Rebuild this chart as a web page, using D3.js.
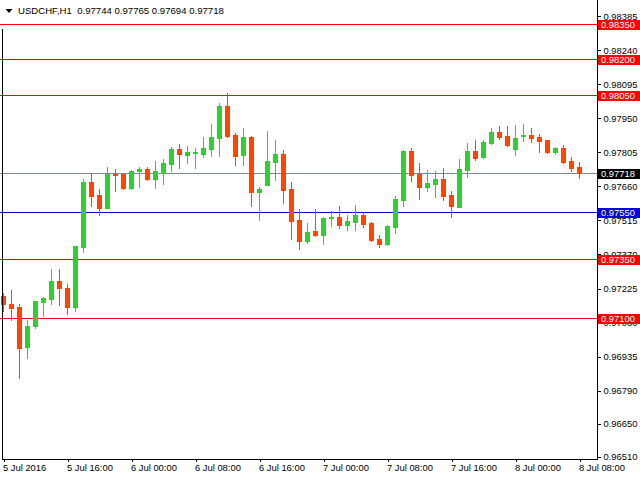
<!DOCTYPE html>
<html>
<head>
<meta charset="utf-8">
<script src="https://cdn.jsdelivr.net/npm/d3@7"></script>
<style>
  html, body { margin: 0; padding: 0; background: #ffffff; }
  svg { display: block; }
  text { font-family: "Liberation Sans", Arial, sans-serif; }
</style>
</head>
<body>
<svg id="chart" width="640" height="480"></svg>
<script>
// ---- DATA (USDCHF, H1, from 5 Jul 2016 08:00) ----
const symbol = "USDCHF,H1";
const open = [0.97195,0.97161,0.97148,0.96975,0.97064,0.97167,0.97180,0.97255,0.97229,0.97145,
  0.97401,0.97677,0.97622,0.97568,0.97713,0.97713,0.97653,0.97725,0.97733,0.97691,
  0.97716,0.97755,0.97818,0.97794,0.97802,0.97798,0.97819,0.97866,0.98001,0.97878,
  0.97794,0.97869,0.97636,0.97666,0.97764,0.97797,0.97647,0.97515,0.97427,0.97468,
  0.97452,0.97524,0.97528,0.97495,0.97508,0.97537,0.97502,0.97434,0.97414,0.97487,
  0.97602,0.97809,0.97713,0.97657,0.97670,0.97690,0.97622,0.97572,0.97730,0.97809,
  0.97785,0.97843,0.97890,0.97873,0.97819,0.97875,0.97878,0.97869,0.97856,0.97806,
  0.97822,0.97767,0.97744];
const high = [0.97204,0.97217,0.97161,0.97093,0.97170,0.97187,0.97306,0.97310,0.97246,0.97404,
  0.97690,0.97716,0.97647,0.97741,0.97733,0.97713,0.97728,0.97741,0.97741,0.97767,
  0.97775,0.97826,0.97839,0.97831,0.97822,0.97869,0.97924,0.98014,0.98057,0.97886,
  0.97907,0.97873,0.97657,0.97895,0.97856,0.97814,0.97677,0.97562,0.97502,0.97562,
  0.97528,0.97554,0.97575,0.97537,0.97579,0.97545,0.97507,0.97451,0.97494,0.97618,
  0.97814,0.97822,0.97760,0.97728,0.97724,0.97737,0.97639,0.97775,0.97843,0.97856,
  0.97856,0.97907,0.97916,0.97916,0.97920,0.97924,0.97907,0.97882,0.97856,0.97826,
  0.97835,0.97784,0.97765];
const low = [0.97131,0.97090,0.96846,0.96931,0.97056,0.97107,0.97158,0.97154,0.97116,0.97128,
  0.97380,0.97576,0.97538,0.97568,0.97640,0.97649,0.97649,0.97657,0.97687,0.97653,
  0.97670,0.97725,0.97738,0.97760,0.97738,0.97785,0.97789,0.97789,0.97870,0.97751,
  0.97751,0.97576,0.97516,0.97666,0.97687,0.97589,0.97435,0.97393,0.97418,0.97448,
  0.97414,0.97491,0.97482,0.97474,0.97474,0.97487,0.97427,0.97401,0.97410,0.97461,
  0.97576,0.97683,0.97606,0.97640,0.97615,0.97602,0.97529,0.97572,0.97700,0.97772,
  0.97781,0.97839,0.97862,0.97832,0.97794,0.97853,0.97849,0.97806,0.97802,0.97798,
  0.97760,0.97725,0.97694];
const close = [0.97161,0.97141,0.96971,0.97067,0.97170,0.97183,0.97255,0.97227,0.97145,0.97404,
  0.97677,0.97619,0.97568,0.97713,0.97708,0.97653,0.97724,0.97733,0.97691,0.97724,
  0.97758,0.97818,0.97798,0.97805,0.97806,0.97822,0.97869,0.98001,0.97875,0.97789,
  0.97869,0.97636,0.97649,0.97767,0.97797,0.97644,0.97512,0.97427,0.97464,0.97451,
  0.97524,0.97528,0.97495,0.97511,0.97537,0.97499,0.97431,0.97414,0.97490,0.97605,
  0.97809,0.97708,0.97657,0.97673,0.97690,0.97619,0.97576,0.97733,0.97809,0.97781,
  0.97848,0.97890,0.97870,0.97836,0.97865,0.97879,0.97866,0.97853,0.97806,0.97822,
  0.97764,0.97738,0.97718];

const priceTicks = [0.98385,0.98240,0.98095,0.97950,0.97805,0.97660,0.97515,0.97370,
  0.97225,0.97080,0.96935,0.96790,0.96650,0.96510];
const timeTickIndex = [0,8,16,24,32,40,48,56,64,72];
const timeTickLabels = ["5 Jul 2016","5 Jul 16:00","6 Jul 00:00","6 Jul 08:00","6 Jul 16:00",
  "7 Jul 00:00","7 Jul 08:00","7 Jul 16:00","8 Jul 00:00","8 Jul 08:00"];
const redLevels = [0.98350,0.98200,0.98050,0.97350,0.97100];
const blueLevels = [0.97550];
const priceMin = 0.96510, priceMax = 0.98385;

// ---- DRAW ----
const svg = d3.select("#chart");
const plotRight = 597, plotBottom = 459;
const x = d3.scaleLinear().domain([0, open.length - 1]).range([3, 579]);
const y = d3.scaleLinear().domain([priceMin, priceMax]).range([456.5, 16]);
const fmt = d3.format(".5f");
const GREEN = "#32cd32", ORANGE = "#ff4500";

const g = svg.append("g").attr("shape-rendering", "crispEdges");

// horizontal level lines
function levelLine(p, color) {
  const yy = Math.round(y(p)) + 0.5;
  g.append("line").attr("x1", 0).attr("x2", plotRight).attr("y1", yy).attr("y2", yy)
    .attr("stroke", color).attr("stroke-width", 1);
}
redLevels.forEach(p => levelLine(p, "#ff0000"));
blueLevels.forEach(p => levelLine(p, "#0000dd"));
const last = close.length - 1;
levelLine(close[last], "#778899");

// candles
const idx = d3.range(open.length);
const candles = g.append("g").selectAll("g").data(idx).join("g");
candles.append("rect")
  .attr("x", i => Math.round(x(i)))
  .attr("width", 1)
  .attr("y", i => Math.round(y(high[i])))
  .attr("height", i => Math.max(1, Math.round(y(low[i])) - Math.round(y(high[i])) + 1))
  .attr("fill", i => close[i] >= open[i] ? GREEN : ORANGE);
candles.append("rect")
  .attr("x", i => Math.round(x(i)) - 2)
  .attr("width", 5)
  .attr("y", i => Math.round(y(Math.max(open[i], close[i]))))
  .attr("height", i => Math.max(1, Math.round(y(Math.min(open[i], close[i]))) - Math.round(y(Math.max(open[i], close[i]))) + 1))
  .attr("fill", i => close[i] >= open[i] ? GREEN : ORANGE);

// frame
g.append("line").attr("x1", 2.5).attr("x2", 2.5).attr("y1", 29).attr("y2", plotBottom + 0.5).attr("stroke", "#000");
g.append("line").attr("x1", plotRight + 0.5).attr("x2", plotRight + 0.5).attr("y1", 0).attr("y2", plotBottom + 0.5).attr("stroke", "#000");
g.append("line").attr("x1", 2).attr("x2", plotRight + 1).attr("y1", plotBottom + 0.5).attr("y2", plotBottom + 0.5).attr("stroke", "#000");

// right price axis
const yAxis = d3.axisRight(y).tickValues(priceTicks).tickFormat(fmt).tickSize(3).tickPadding(3);
const ya = svg.append("g").attr("transform", `translate(${plotRight + 0.5},0)`).call(yAxis);
ya.select(".domain").remove();
ya.selectAll(".tick line").attr("stroke", "#000").attr("shape-rendering", "crispEdges");
ya.selectAll(".tick text").attr("font-size", "9.4px").attr("fill", "#000")
  .attr("font-family", "'Liberation Sans', Arial, sans-serif");

// bottom time axis
const xAxis = d3.axisBottom(x).tickValues(timeTickIndex)
  .tickFormat((d, i) => timeTickLabels[i]).tickSize(3).tickPadding(2);
const xa = svg.append("g").attr("transform", `translate(0.5,${plotBottom})`).call(xAxis);
xa.select(".domain").remove();
xa.selectAll(".tick line").attr("stroke", "#000").attr("shape-rendering", "crispEdges");
xa.selectAll(".tick text").attr("font-size", "9.4px").attr("fill", "#000")
  .attr("text-anchor", "start").attr("x", -1)
  .attr("font-family", "'Liberation Sans', Arial, sans-serif");

// price label boxes
function priceBox(p, bg, fg) {
  const yy = Math.round(y(p)) + 0.5;
  svg.append("rect").attr("x", 598).attr("y", yy - 5).attr("width", 42).attr("height", 10)
    .attr("fill", bg).attr("shape-rendering", "crispEdges");
  svg.append("text").attr("x", 601).attr("y", yy).attr("dy", "0.34em")
    .attr("font-size", "9.4px").attr("fill", fg).text(fmt(p));
}
redLevels.forEach(p => priceBox(p, "#ff0000", "#ffffff"));
blueLevels.forEach(p => priceBox(p, "#0000dd", "#ffffff"));
priceBox(close[last], "#000000", "#ffffff");

// title
svg.append("path").attr("d", "M5.5,9 L12.5,9 L9,13 Z").attr("fill", "#000");
svg.append("text").attr("x", 18).attr("y", 14).attr("font-size", "9.6px").attr("fill", "#000")
  .attr("xml:space", "preserve")
  .text(`${symbol}  ${fmt(open[last])} ${fmt(high[last])} ${fmt(low[last])} ${fmt(close[last])}`);
</script>
</body>
</html>
